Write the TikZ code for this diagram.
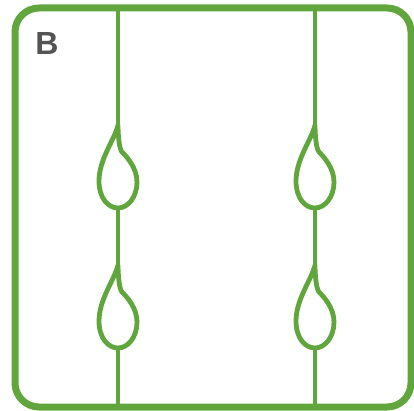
\documentclass[tikz,border=0pt]{standalone}
\usepackage{fontspec}
\setmainfont{Liberation Sans}
\begin{document}
\begin{tikzpicture}[x=1pt,y=-1pt]

\newcommand{\droplet}[1]{%
 \draw[strandstl] (#1) .. controls +(-3,14) and +(0,-22) .. ++(-19,56)
   .. controls +(0,17) and +(-10,0) .. ++(19,27)
   .. controls +(10,0) and +(0,15) .. ++(19,-26)
   .. controls +(0,-14) and +(5,5) .. ++(-15,-30)
   .. controls +(-3,-3) and +(0,8) .. (#1);}

  \definecolor{strandcol}{rgb}{0.38,0.65,0.24}
  \definecolor{labcol}{rgb}{0.33,0.33,0.33}

 \useasboundingbox (0,0) rectangle (414,411);

 \tikzset{
      framestl/.style={line width=7pt,draw=strandcol,rounded corners=24pt},
      strandstl/.style={line width=4.8pt,draw=strandcol},
    }

 % frame
 \draw[framestl] (15,8) rectangle (411,407);

 \node[text=labcol,font=\bfseries\fontsize{32}{32}\selectfont] (lab) at (47,43.5) {B};

 % two strands, each with two droplets
 \foreach \sx in {118,315} {
   \coordinate (top) at (\sx,8);
   \coordinate (bot) at (\sx,407);
   \coordinate (d1) at (\sx,125);
   \coordinate (d1b) at (\sx,208);
   \coordinate (d2) at (\sx,265);
   \coordinate (d2b) at (\sx,348);
   \draw[strandstl] (top) -- (d1);
   \draw[strandstl] (d1b) -- (d2);
   \draw[strandstl] (d2b) -- (bot);
   \droplet{d1}
   \droplet{d2}
 }
\end{tikzpicture}
\end{document}
